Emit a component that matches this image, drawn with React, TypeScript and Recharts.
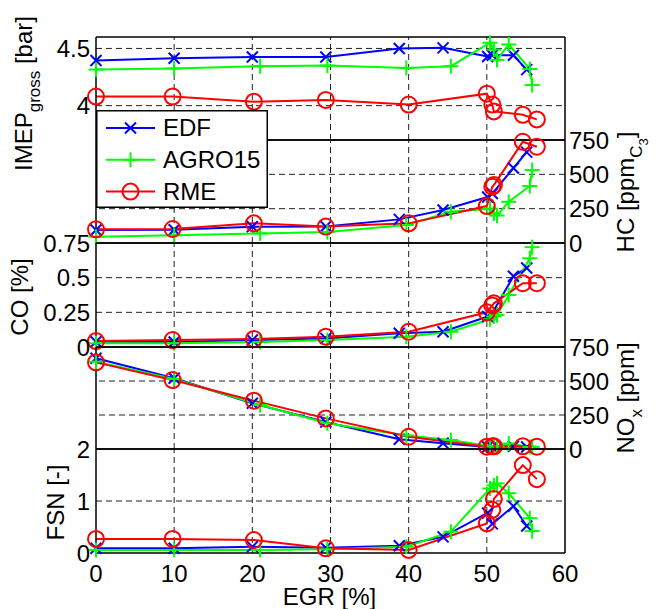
import React from 'react';
import { LineChart, Line, XAxis, YAxis, ReferenceLine, Legend } from 'recharts';

const W = 659;
const H = 609;
const FONT = '"Liberation Sans", Arial, Helvetica, sans-serif';

// EGR rate [%] and measured values per fuel
const edfEgr = [0, 10, 20, 29.4, 38.8, 44.4, 50.1, 50.7, 53.4, 55.1];
const edfImep = [4.395, 4.415, 4.425, 4.425, 4.5, 4.505, 4.43, 4.44, 4.44, 4.315];
const edfHc = [95, 97, 119, 120, 172, 240, 335, 360, 546, 662];
const edfCo = [0.038, 0.036, 0.05, 0.062, 0.099, 0.11, 0.22, 0.245, 0.51, 0.57];
const edfNox = [667, 520, 336, 198, 72, 42, 15, 15, 20, 15];
const edfFsn = [0.09, 0.09, 0.12, 0.1, 0.14, 0.31, 0.77, 0.56, 0.9, 0.52];

const agroEgr = [0, 10, 21, 29.6, 39.7, 45.4, 50.4, 50.9, 51.3, 52.8, 55.5, 55.8];
const agroImep = [4.316, 4.325, 4.345, 4.35, 4.33, 4.345, 4.55, 4.49, 4.4, 4.535, 4.32, 4.18];
const agroHc = [46, 56, 70, 80, 131, 228, 250, 215, 200, 300, 415, 531];
const agroCo = [0.027, 0.027, 0.036, 0.05, 0.074, 0.11, 0.2, 0.22, 0.23, 0.375, 0.64, 0.72];
const agroNox = [642, 515, 323, 190, 100, 66, 20, 20, 18, 40, 15, 15];
const agroFsn = [0.06, 0.06, 0.06, 0.07, 0.12, 0.41, 1.24, 1.3, 1.34, 1.15, 0.67, 0.42];

const rmeEgr = [0, 9.8, 20.2, 29.4, 40, 50, 50.7, 50.9, 54.6, 56.4];
const rmeImep = [4.08, 4.08, 4.035, 4.05, 4.01, 4.105, 4.01, 3.95, 3.92, 3.88];
const rmeHc = [100, 102, 143, 120, 143, 269, 410, 422, 737, 701];
const rmeCo = [0.043, 0.05, 0.058, 0.074, 0.11, 0.25, 0.3, 0.315, 0.46, 0.46];
const rmeNox = [637, 507, 355, 225, 90, 17, 20, 20, 20, 17];
const rmeFsn = [0.27, 0.27, 0.25, 0.09, 0.06, 0.57, 0.83, 1.04, 1.69, 1.42];

// axis ticks
const egrTicks = [0, 10, 20, 30, 40, 50, 60];
const egrGrid = [10, 20, 30, 40, 50];
const imepTicks = [4, 4.5];
const hcTicks = [0, 250, 500, 750];
const coTicks = [0, 0.25, 0.5, 0.75];
const noxTicks = [0, 250, 500, 750];
const fsnTicks = [0, 1, 2];

type Row = { egr: number; imep: number; hc: number; co: number; nox: number; fsn: number };

function toRows(egr: number[], imep: number[], hc: number[], co: number[], nox: number[], fsn: number[]): Row[] {
  return egr.map((e, i) => ({ egr: e, imep: imep[i], hc: hc[i], co: co[i], nox: nox[i], fsn: fsn[i] }));
}

const SERIES = [
  { name: 'EDF', color: '#0000ff', marker: 'x', data: toRows(edfEgr, edfImep, edfHc, edfCo, edfNox, edfFsn) },
  { name: 'AGRO15', color: '#00ff00', marker: 'plus', data: toRows(agroEgr, agroImep, agroHc, agroCo, agroNox, agroFsn) },
  { name: 'RME', color: '#ff0000', marker: 'o', data: toRows(rmeEgr, rmeImep, rmeHc, rmeCo, rmeNox, rmeFsn) },
];

const PANELS = [
  { key: 'imep', top: 37, bottom: 140, domain: [3.7, 4.6], ticks: imepTicks, grid: [4, 4.5], side: 'left' },
  { key: 'hc', top: 140, bottom: 243, domain: [0, 750], ticks: hcTicks, grid: [250, 500], side: 'right' },
  { key: 'co', top: 243, bottom: 347, domain: [0, 0.75], ticks: coTicks, grid: [0.25, 0.5], side: 'left' },
  { key: 'nox', top: 347, bottom: 449, domain: [0, 750], ticks: noxTicks, grid: [250, 500], side: 'right' },
  { key: 'fsn', top: 449, bottom: 553, domain: [0, 2], ticks: fsnTicks, grid: [1], side: 'left' },
];

const PLOT_LEFT = 96;
const PLOT_RIGHT = 565;
const AXIS = { stroke: '#000', strokeWidth: 1.5 };
const GRID = { stroke: '#222', strokeWidth: 1, strokeDasharray: '6 4' };
const TICK = { fill: '#000', fontSize: 24, fontFamily: FONT };

function Marker({ cx, cy, shape, color }: { cx?: number; cy?: number; shape: string; color: string }) {
  if (cx == null || cy == null) return null;
  if (shape === 'x') {
    const d = 5.5;
    return (
      <g stroke={color} strokeWidth={2}>
        <line x1={cx - d} y1={cy - d} x2={cx + d} y2={cy + d} />
        <line x1={cx - d} y1={cy + d} x2={cx + d} y2={cy - d} />
      </g>
    );
  }
  if (shape === 'plus') {
    const d = 7.5;
    return (
      <g stroke={color} strokeWidth={2}>
        <line x1={cx - d} y1={cy} x2={cx + d} y2={cy} />
        <line x1={cx} y1={cy - d} x2={cx} y2={cy + d} />
      </g>
    );
  }
  return <circle cx={cx} cy={cy} r={8} fill="none" stroke={color} strokeWidth={2} />;
}

function LegendBox() {
  return (
    <svg width={172} height={98} style={{ display: 'block' }}>
      <rect x={0.75} y={0.75} width={170.5} height={96.5} fill="#fff" stroke="#000" strokeWidth={1.5} />
      {SERIES.map((s, i) => {
        const y = 18 + i * 31.8;
        return (
          <g key={s.name}>
            <line x1={10} x2={59} y1={y} y2={y} stroke={s.color} strokeWidth={2} />
            <Marker cx={34.5} cy={y} shape={s.marker} color={s.color} />
            <text x={67} y={y} dy="0.35em" fontSize={24} fontFamily={FONT} fill="#000">
              {s.name}
            </text>
          </g>
        );
      })}
    </svg>
  );
}

function Panel({ panel, last, first }: { panel: (typeof PANELS)[number]; last: boolean; first: boolean }) {
  const xh = last ? 30 : 1;
  const labeled = panel.side;
  const other = labeled === 'left' ? 'right' : 'left';
  return (
    <div style={{ position: 'absolute', left: 0, top: 0 }}>
      <LineChart
        width={W}
        height={H}
        margin={{ top: panel.top, bottom: H - panel.bottom - xh, left: 0, right: 0 }}
      >
        <XAxis
          type="number"
          dataKey="egr"
          domain={[0, 60]}
          ticks={egrTicks}
          interval={0}
          height={xh}
          axisLine={AXIS}
          tickLine={false}
          tick={last ? TICK : false}
          tickSize={6}
          tickMargin={6}
        />
        <YAxis
          orientation={labeled as 'left' | 'right'}
          width={labeled === 'left' ? PLOT_LEFT : W - PLOT_RIGHT}
          type="number"
          domain={panel.domain}
          ticks={panel.ticks}
          interval={0}
          axisLine={AXIS}
          tickLine={false}
          tick={TICK}
          tickSize={labeled === 'left' ? 4 : 2}
          tickMargin={2}
        />
        <YAxis
          yAxisId="edge"
          orientation={other as 'left' | 'right'}
          width={other === 'left' ? PLOT_LEFT : W - PLOT_RIGHT}
          type="number"
          domain={panel.domain}
          axisLine={AXIS}
          tickLine={false}
          tick={false}
        />
        {egrGrid.map((g) => (
          <ReferenceLine key={'x' + g} x={g} {...GRID} />
        ))}
        {panel.grid.map((g) => (
          <ReferenceLine key={'y' + g} y={g} {...GRID} />
        ))}
        <ReferenceLine y={panel.domain[1]} stroke="#000" strokeWidth={1.5} />
        {SERIES.map((s) => (
          <Line
            key={s.name}
            name={s.name}
            type="linear"
            data={s.data}
            dataKey={panel.key}
            stroke={s.color}
            strokeWidth={2}
            isAnimationActive={false}
            activeDot={false}
            dot={(p: any) => <Marker key={s.name + p.index} cx={p.cx} cy={p.cy} shape={s.marker} color={s.color} />}
          />
        ))}
        {first && (
          <Legend
            layout="vertical"
            align="center"
            verticalAlign="middle"
            content={() => <LegendBox />}
            wrapperStyle={{ left: 96, top: 110, width: 172, height: 98, zIndex: 5 }}
          />
        )}
      </LineChart>
    </div>
  );
}

export default function App() {
  return (
    <div style={{ position: 'absolute', left: 0, top: 0, width: W, height: H, background: '#fff' }}>
      {PANELS.map((p, i) => (
        <Panel key={p.key} panel={p} first={i === 0} last={i === PANELS.length - 1} />
      ))}
      <svg
        width={W}
        height={H}
        style={{ position: 'absolute', left: 0, top: 0, pointerEvents: 'none' }}
        fontFamily={FONT}
        fontSize={24}
        fill="#000"
      >
        <text transform="translate(32,93.5) rotate(-90)" textAnchor="middle">
          IMEP<tspan fontSize={17} dy={8}>gross</tspan>
          <tspan dy={-8}> [bar]</tspan>
        </text>
        <text transform="translate(28,297) rotate(-90)" textAnchor="middle">
          CO [%]
        </text>
        <text transform="translate(64,502.5) rotate(-90)" textAnchor="middle">
          FSN [-]
        </text>
        <text transform="translate(634,192) rotate(-90)" textAnchor="middle">
          HC [ppm<tspan fontSize={17} dy={8}>C</tspan>
          <tspan fontSize={13} dy={6}>3</tspan>
          <tspan dy={-14}>]</tspan>
        </text>
        <text transform="translate(634,398) rotate(-90)" textAnchor="middle">
          NO<tspan fontSize={17} dy={8}>x</tspan>
          <tspan dy={-8}> [ppm]</tspan>
        </text>
        <text x={329.5} y={605} textAnchor="middle">
          EGR [%]
        </text>
      </svg>
    </div>
  );
}
